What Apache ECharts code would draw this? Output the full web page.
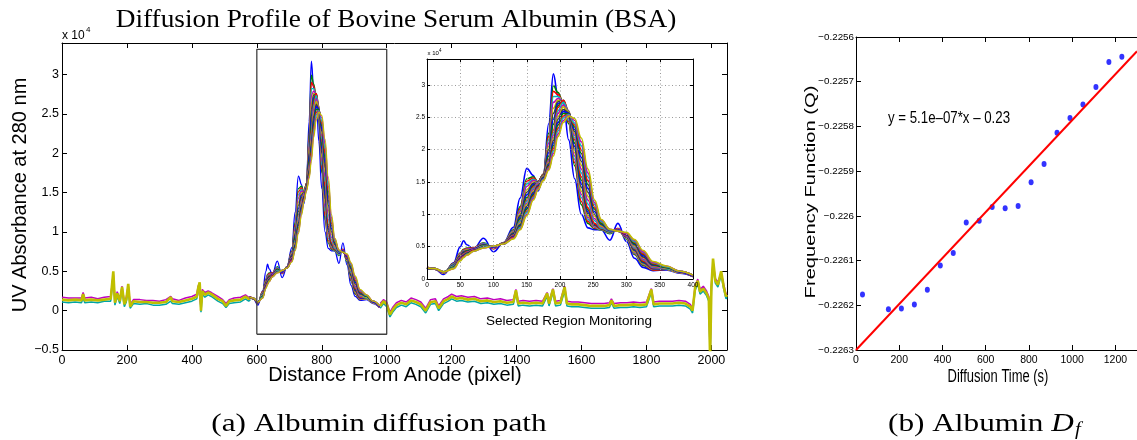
<!DOCTYPE html>
<html><head><meta charset="utf-8">
<script src="https://cdn.jsdelivr.net/npm/echarts@6/dist/echarts.min.js"></script>
<style>html,body{margin:0;padding:0;background:#fff}#c{width:1137px;height:440px}</style>
</head><body><div id="c"></div>
<script>
// ================= DATA =================
// (a) Positions inside the selected region (inset x axis, pixels)
const regionX = [0,12,25,40,50,55,60,70,85,100,115,130,140,150,160,167,175,183,190,197,205,213,222,232,242,252,262,275,287,300,312,325,340,360,380,400];
// UV absorbance (x10^4) of the 20 successive scans in the selected region
const scan01 = [.16,.15,.07,.25,.50,.59,.53,.46,.63,.42,.56,.80,1.25,1.71,1.60,1.36,1.62,2.40,3.17,2.82,2.74,2.15,1.55,1.00,.79,.76,.76,.60,.86,.58,.32,.18,.13,.14,.09,.04];
const scan02 = [.18,.16,.09,.24,.40,.46,.48,.48,.56,.47,.56,.76,1.12,1.55,1.58,1.50,1.62,2.25,2.99,2.88,2.72,2.40,1.75,1.15,.86,.78,.76,.70,.78,.62,.38,.21,.14,.15,.10,.04];
const scan03 = [.18,.16,.09,.24,.39,.45,.47,.48,.55,.47,.56,.75,1.09,1.51,1.56,1.50,1.62,2.20,2.90,2.85,2.73,2.43,1.80,1.20,.89,.79,.76,.71,.78,.63,.39,.22,.14,.15,.10,.04];
const scan04 = [.17,.16,.09,.23,.38,.44,.46,.47,.55,.48,.56,.74,1.06,1.47,1.54,1.50,1.61,2.15,2.82,2.82,2.73,2.45,1.85,1.26,.92,.80,.76,.71,.77,.63,.40,.23,.15,.15,.10,.04];
const scan05 = [.18,.15,.09,.22,.38,.43,.46,.47,.54,.48,.56,.73,1.04,1.43,1.52,1.50,1.61,2.10,2.73,2.79,2.74,2.48,1.90,1.31,.95,.81,.77,.72,.77,.64,.41,.24,.15,.15,.10,.04];
const scan06 = [.17,.16,.09,.22,.37,.42,.45,.46,.53,.49,.55,.72,1.01,1.38,1.50,1.50,1.61,2.05,2.64,2.76,2.74,2.50,1.95,1.36,.98,.82,.77,.72,.76,.64,.42,.24,.15,.15,.10,.05];
const scan07 = [.17,.15,.10,.21,.36,.42,.44,.46,.53,.49,.55,.71,.98,1.34,1.48,1.50,1.61,2.00,2.56,2.74,2.75,2.53,2.00,1.42,1.01,.83,.77,.73,.76,.65,.44,.25,.16,.16,.11,.05];
const scan08 = [.17,.15,.10,.21,.35,.41,.43,.46,.52,.49,.55,.70,.95,1.30,1.46,1.50,1.60,1.95,2.47,2.71,2.75,2.55,2.05,1.47,1.04,.84,.78,.73,.76,.65,.45,.26,.16,.16,.11,.05];
const scan09 = [.17,.15,.10,.20,.35,.40,.43,.45,.52,.50,.55,.69,.93,1.26,1.44,1.50,1.60,1.90,2.39,2.68,2.76,2.58,2.10,1.53,1.07,.85,.78,.74,.75,.66,.46,.27,.17,.16,.11,.05];
const scan10 = [.17,.15,.10,.20,.34,.39,.42,.45,.51,.50,.55,.68,.90,1.22,1.42,1.50,1.60,1.85,2.30,2.65,2.76,2.60,2.15,1.58,1.10,.86,.78,.74,.75,.66,.47,.28,.17,.16,.11,.05];
const scan11 = [.17,.15,.10,.20,.33,.38,.41,.45,.51,.50,.55,.67,.89,1.20,1.40,1.49,1.59,1.83,2.26,2.60,2.73,2.59,2.18,1.64,1.16,.90,.79,.74,.75,.67,.48,.30,.18,.16,.11,.05];
const scan12 = [.17,.15,.10,.19,.33,.38,.41,.45,.50,.50,.55,.67,.87,1.17,1.38,1.48,1.58,1.82,2.22,2.56,2.69,2.58,2.22,1.70,1.22,.93,.81,.75,.75,.67,.50,.31,.19,.17,.11,.05];
const scan13 = [.17,.15,.10,.19,.32,.37,.40,.44,.50,.50,.55,.66,.86,1.15,1.36,1.46,1.58,1.80,2.18,2.51,2.66,2.58,2.25,1.76,1.28,.97,.82,.75,.75,.68,.51,.33,.20,.17,.11,.05];
const scan14 = [.17,.15,.10,.18,.32,.37,.40,.44,.50,.50,.55,.66,.84,1.12,1.34,1.45,1.57,1.78,2.14,2.47,2.62,2.57,2.28,1.82,1.34,1.00,.84,.75,.75,.68,.53,.34,.21,.18,.11,.05];
const scan15 = [.17,.16,.10,.18,.31,.36,.39,.44,.49,.50,.54,.65,.83,1.10,1.32,1.44,1.56,1.76,2.10,2.42,2.59,2.56,2.31,1.88,1.40,1.04,.85,.75,.74,.69,.54,.36,.22,.18,.11,.05];
const scan16 = [.17,.16,.11,.18,.30,.35,.39,.44,.49,.51,.54,.64,.82,1.08,1.30,1.43,1.55,1.75,2.06,2.38,2.56,2.55,2.35,1.94,1.46,1.08,.86,.76,.74,.70,.55,.38,.23,.18,.12,.06];
const scan17 = [.17,.16,.11,.17,.30,.35,.38,.44,.49,.51,.54,.64,.80,1.05,1.28,1.42,1.54,1.73,2.02,2.33,2.52,2.54,2.38,2.00,1.52,1.11,.88,.76,.74,.70,.57,.39,.24,.19,.12,.06];
const scan18 = [.17,.16,.11,.17,.29,.34,.38,.43,.49,.51,.54,.63,.79,1.03,1.26,1.40,1.54,1.71,1.98,2.29,2.49,2.54,2.41,2.06,1.58,1.15,.89,.76,.74,.71,.58,.41,.25,.19,.12,.06];
const scan19 = [.17,.16,.11,.16,.29,.34,.37,.43,.48,.51,.54,.63,.77,1.00,1.24,1.39,1.53,1.70,1.94,2.24,2.45,2.53,2.45,2.12,1.64,1.18,.91,.77,.74,.71,.60,.42,.26,.20,.12,.06];
const scan20 = [.17,.16,.11,.16,.28,.33,.37,.43,.48,.51,.54,.62,.76,.98,1.22,1.38,1.52,1.68,1.90,2.20,2.42,2.52,2.48,2.18,1.70,1.22,.92,.77,.74,.72,.61,.44,.27,.20,.12,.06];
// inset pixel 0 corresponds to this pixel on the full path
const REGION_START = 578;

// Baseline outside the region (x10^4): upper / middle / lower traces of the band
const baseLeftX   = [0,20,40,60,65,70,90,110,130,150,158,163,170,178,185,192,198,204,210,220,240,260,280,300,320,335,340,360,380,400,415,420,424,428,432,440,450,460,480,495,505,515,530,550,565,575,580];
const baseLeftHi  = [.17,.16,.16,.16,.23,.16,.17,.15,.17,.18,.47,.13,.24,.15,.31,.11,.17,.32,.08,.14,.14,.13,.13,.12,.14,.18,.15,.13,.16,.18,.21,.32,.33,.04,.27,.23,.25,.23,.18,.14,.09,.14,.16,.17,.20,.17,.17];
const baseLeftMid = [.14,.13,.14,.13,.21,.13,.14,.13,.14,.15,.50,.10,.22,.12,.30,.08,.14,.34,.05,.12,.11,.11,.10,.10,.11,.17,.12,.11,.13,.15,.18,.30,.36,.00,.25,.20,.23,.21,.15,.12,.06,.12,.13,.14,.18,.15,.16];
const baseLeftLo  = [.11,.10,.11,.10,.16,.10,.11,.10,.12,.12,.42,.07,.18,.09,.26,.05,.11,.28,.03,.09,.08,.09,.07,.07,.08,.12,.09,.08,.10,.12,.15,.26,.30,-.02,.21,.17,.20,.18,.12,.09,.04,.09,.10,.11,.15,.12,.14];

const baseRightX   = [980,990,1000,1010,1020,1030,1045,1060,1075,1090,1105,1120,1135,1150,1160,1175,1190,1200,1215,1230,1250,1270,1290,1310,1330,1350,1370,1390,1398,1405,1420,1440,1460,1480,1494,1500,1512,1520,1535,1548,1555,1570,1590,1610,1630,1650,1670,1686,1692,1700,1720,1740,1760,1780,1800,1815,1822,1840,1860,1880,1900,1920,1935,1942,1950,1958,1965,1975,1985,1992,1996,2000,2005,2012,2020,2030,2038,2045,2048];
const baseRightHi  = [.09,.14,.11,-.02,.05,.10,.13,.11,.16,.14,.11,.03,.14,.15,.06,.15,.18,.21,.18,.19,.17,.18,.15,.16,.14,.15,.13,.14,.27,.12,.13,.12,.13,.12,.23,.12,.28,.12,.13,.31,.12,.11,.11,.10,.09,.09,.09,.10,.15,.09,.10,.10,.11,.10,.11,.28,.11,.12,.12,.12,.13,.12,.08,.03,.32,.40,.27,.31,.25,.18,-.55,.33,.62,.41,.36,.48,.33,.21,.22];
const baseRightMid = [.06,.12,.08,-.05,.02,.07,.10,.08,.13,.11,.08,.00,.11,.12,.03,.12,.15,.18,.15,.16,.14,.15,.12,.13,.11,.12,.10,.11,.26,.09,.10,.09,.10,.09,.22,.09,.27,.09,.10,.30,.09,.08,.08,.07,.06,.06,.06,.07,.13,.06,.07,.07,.08,.07,.08,.27,.08,.09,.09,.09,.10,.09,.05,.00,.30,.38,.24,.28,.22,.15,-.60,.30,.66,.38,.33,.50,.30,.18,.20];
const baseRightLo  = [.03,.09,.05,-.08,-.01,.04,.07,.05,.10,.08,.05,-.03,.08,.09,.00,.09,.12,.15,.12,.13,.11,.12,.09,.10,.08,.09,.07,.08,.22,.06,.07,.06,.07,.06,.18,.06,.23,.06,.07,.25,.06,.05,.05,.04,.03,.03,.03,.04,.10,.03,.04,.04,.05,.04,.05,.23,.05,.06,.06,.06,.07,.06,.02,-.03,.26,.34,.21,.25,.19,.12,-.60,.27,.60,.35,.30,.45,.27,.15,.17];

// selection box on the full path
const boxX = [600,600,1000,1000,600];
const boxY = [-0.3,3.32,3.32,-0.3,-0.3];

// (b) Frequency function vs diffusion time
const timeS = [30,150,210,270,330,390,450,510,570,630,690,750,810,870,930,990,1050,1110,1170,1230];
const freqQ = [-0.226176,-0.226209,-0.226207,-0.226198,-0.226165,-0.226111,-0.226083,-0.226015,-0.226011,-0.225980,-0.225983,-0.225978,-0.225925,-0.225884,-0.225814,-0.225781,-0.225751,-0.225712,-0.225656,-0.225644];
const fitX = [0,1300];
const fitY = [-0.2263,-0.225632];

// ================= CHART =================
const scans = [scan01,scan02,scan03,scan04,scan05,scan06,scan07,scan08,scan09,scan10,scan11,scan12,scan13,scan14,scan15,scan16,scan17,scan18,scan19,scan20];
const matlab = ['#0000ff','#008000','#ff0000','#00bfbf','#bf00bf','#bfbf00','#404040'];
const SANS = '"Liberation Sans", Arial, sans-serif';
const SERIF = '"Liberation Serif", "Times New Roman", serif';
const minus = s => String(s).replace('-', '\u2212');
const pairs = (xs, ys, dx) => xs.map((x, i) => [x + (dx || 0), ys[i]]);

function axis(o) {
  return {
    type: 'value', gridIndex: o.grid, position: o.pos, min: o.min, max: o.max, interval: o.interval, z: o.z || 0,
    axisLine: {show: true, onZero: false, lineStyle: {color: '#000', width: 1}},
    axisTick: {show: o.tick !== false, inside: true, length: o.tickLen || 5, lineStyle: {color: '#000', width: 1}},
    axisLabel: {show: !!o.label, color: '#000', fontFamily: o.font || SANS, fontSize: o.fontSize || 12.5,
      margin: o.margin || 4, showMaxLabel: !!o.showMax, formatter: o.fmt || minus},
    splitLine: o.split ? {show: true, lineStyle: {color: '#9a9a9a', width: 1, type: [1, 2.5]}} : {show: false}
  };
}

const series = [];
const baseStyles = [['Lo', '#00a5a5', 1.5], ['Hi', '#bf00bf', 1.5], ['Mid', '#bfbf00', 2.6]];
baseStyles.forEach(([k, c, w]) => {
  const L = {Lo: baseLeftLo, Hi: baseLeftHi, Mid: baseLeftMid}[k];
  const R = {Lo: baseRightLo, Hi: baseRightHi, Mid: baseRightMid}[k];
  [[baseLeftX, L], [baseRightX, R]].forEach(([xs, ys]) => series.push({
    type: 'line', xAxisIndex: 0, yAxisIndex: 0, data: pairs(xs, ys), showSymbol: false, symbol: 'none',
    lineStyle: {color: c, width: w}, silent: true, animation: false, z: 2
  }));
});
scans.forEach((s, k) => series.push({
  type: 'line', xAxisIndex: 0, yAxisIndex: 0, data: pairs(regionX, s, REGION_START), showSymbol: false, symbol: 'none',
  smooth: 0.4, smoothMonotone: 'x', lineStyle: {color: matlab[k % 7], width: 1.3}, silent: true, animation: false, z: 2
}));
series.push({
  type: 'line', xAxisIndex: 0, yAxisIndex: 0, data: pairs(boxX, boxY), showSymbol: false, symbol: 'none',
  lineStyle: {color: '#404040', width: 1.3}, silent: true, animation: false, z: 3
});
scans.forEach((s, k) => series.push({
  type: 'line', xAxisIndex: 2, yAxisIndex: 2, data: pairs(regionX, s), showSymbol: false, symbol: 'none',
  smooth: 0.4, smoothMonotone: 'x', lineStyle: {color: matlab[k % 7], width: 1.6}, silent: true, animation: false, z: 4
}));
series.push({
  type: 'line', xAxisIndex: 4, yAxisIndex: 4, data: pairs(fitX, fitY), showSymbol: false, symbol: 'none',
  lineStyle: {color: '#ff0000', width: 2}, silent: true, animation: false
});
series.push({
  type: 'scatter', xAxisIndex: 4, yAxisIndex: 4, data: pairs(timeS, freqQ), symbol: 'circle', symbolSize: [5, 6],
  itemStyle: {color: '#0000ff'}, silent: true, animation: false
});

const fmtQ = v => minus(parseFloat(v.toFixed(4)));

const option = {
  animation: false,
  backgroundColor: '#fff',
  grid: [
    {left: 62, top: 43, width: 665, height: 307},
    {left: 427, top: 59, width: 266, height: 220},
    {left: 856, top: 37, right: -5, height: 313}
  ],
  xAxis: [
    axis({grid: 0, pos: 'bottom', min: 0, max: 2048, interval: 200, label: true, margin: 4}),
    axis({grid: 0, pos: 'top', min: 0, max: 2048, interval: 200}),
    axis({grid: 1, pos: 'bottom', min: 0, max: 400, interval: 50, label: true, fontSize: 6.5, margin: 2.5, tickLen: 3, split: true, showMax: true, z: 10}),
    axis({grid: 1, pos: 'top', min: 0, max: 400, interval: 50, tickLen: 3, z: 10}),
    axis({grid: 2, pos: 'bottom', min: 0, max: 1300, interval: 200, label: true, fontSize: 10.5, margin: 5}),
    axis({grid: 2, pos: 'top', min: 0, max: 1300, interval: 200})
  ],
  yAxis: [
    axis({grid: 0, pos: 'left', min: -0.5, max: 3.4, interval: 0.5, label: true, margin: 3}),
    axis({grid: 0, pos: 'right', min: -0.5, max: 3.4, interval: 0.5}),
    axis({grid: 1, pos: 'left', min: 0, max: 3.4, interval: 0.5, label: true, fontSize: 6.5, margin: 2, tickLen: 3, split: true, z: 10}),
    axis({grid: 1, pos: 'right', min: 0, max: 3.4, interval: 0.5, tickLen: 3, z: 10}),
    axis({grid: 2, pos: 'left', min: -0.2263, max: -0.2256, interval: 0.0001, label: true, fontSize: 9.8, margin: 2, fmt: fmtQ, showMax: true})
  ],
  series: series,
  graphic: [
    {type: 'text', x: 396, y: 20, scaleX: 1.05, style: {text: 'Diffusion Profile of Bovine Serum Albumin (BSA)', font: '26px ' + SERIF, fill: '#000', align: 'center', verticalAlign: 'middle'}},
    {type: 'text', x: 62, y: 35.5, style: {text: 'x 10', font: '12px ' + SANS, fill: '#000', align: 'left', verticalAlign: 'middle'}},
    {type: 'text', x: 86, y: 29.5, style: {text: '4', font: '8px ' + SANS, fill: '#000', align: 'left', verticalAlign: 'middle'}},
    {type: 'text', x: 20, y: 195, rotation: Math.PI / 2, style: {text: 'UV Absorbance at 280 nm', font: '20px ' + SANS, fill: '#000', align: 'center', verticalAlign: 'middle'}},
    {type: 'text', x: 395, y: 375.5, style: {text: 'Distance From Anode (pixel)', font: '20px ' + SANS, fill: '#000', align: 'center', verticalAlign: 'middle'}},
    {type: 'text', x: 427.5, y: 53.5, style: {text: 'x 10', font: '6px ' + SANS, fill: '#000', align: 'left', verticalAlign: 'middle'}},
    {type: 'text', x: 439, y: 50.5, style: {text: '4', font: '4.5px ' + SANS, fill: '#000', align: 'left', verticalAlign: 'middle'}},
    {type: 'text', x: 569, y: 321.5, style: {text: 'Selected Region Monitoring', font: '13.5px ' + SANS, fill: '#000', align: 'center', verticalAlign: 'middle'}},
    {type: 'text', x: 379, y: 424, scaleX: 1.25, style: {text: '(a) Albumin diffusion path', font: '25px ' + SERIF, fill: '#000', align: 'center', verticalAlign: 'middle'}},
    {type: 'text', x: 811, y: 192, rotation: Math.PI / 2, scaleX: 1.3, style: {text: 'Frequency Function (Q)', font: '15.5px ' + SANS, fill: '#000', align: 'center', verticalAlign: 'middle'}},
    {type: 'text', x: 998, y: 377, scaleX: 0.72, style: {text: 'Diffusion Time (s)', font: '18px ' + SANS, fill: '#000', align: 'center', verticalAlign: 'middle'}},
    {type: 'text', x: 888, y: 118, scaleX: 0.78, style: {text: 'y = 5.1e\u201307*x \u2013 0.23', font: '17px ' + SANS, fill: '#000', align: 'left', verticalAlign: 'middle'}},
    {type: 'text', x: 888, y: 424, scaleX: 1.25, style: {text: '{r|(b) Albumin }{i|D}', rich: {r: {font: '25px ' + SERIF, fill: '#000'}, i: {font: 'italic 25px ' + SERIF, fill: '#000'}}, align: 'left', verticalAlign: 'middle'}},
    {type: 'text', x: 1075, y: 430, scaleX: 1.15, style: {text: 'f', font: 'italic 18px ' + SERIF, fill: '#000', align: 'left', verticalAlign: 'middle'}}
  ]
};
const chart = echarts.init(document.getElementById('c'));
chart.setOption(option);
</script>
</body></html>
